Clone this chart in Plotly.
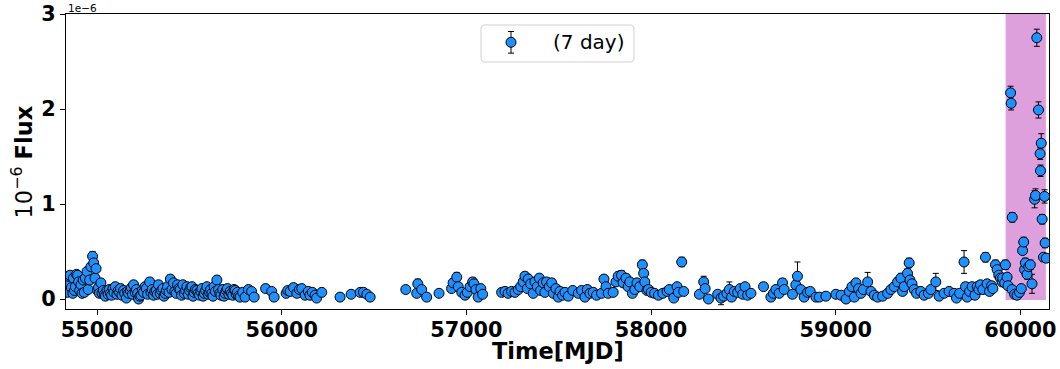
import plotly.graph_objects as go

# ---------------------------------------------------------------------------
# 7-day binned light curve (flux in units of 1e-6)
# ---------------------------------------------------------------------------
mjd_a = [
    54836, 54838, 54845, 54854, 54861, 54869, 54872, 54878, 54883, 54889,
    54895, 54900, 54906, 54913, 54919, 54925, 54931, 54937, 54946, 54952,
    54960, 54967, 54976, 54982, 54989, 54995, 55003, 55008, 55013, 55021,
    55027, 55034, 55040, 55045, 55054, 55060, 55066, 55072, 55079, 55086,
    55092, 55099, 55108, 55115, 55122, 55128, 55135, 55144, 55150, 55159,
    55165, 55171, 55180, 55186, 55192, 55198, 55206, 55213, 55220, 55225,
    55232, 55238, 55245, 55252, 55260, 55267, 55274, 55285, 55292, 55299,
    55306, 55313, 55321, 55327, 55333, 55342, 55349, 55357, 55363, 55370,
    55376, 55382, 55390, 55397, 55406, 55414, 55421, 55429, 55436, 55443,
    55451, 55458, 55465, 55472, 55480, 55487, 55494, 55501, 55507, 55514,
    55520, 55526, 55533, 55541, 55548, 55555, 55562, 55568, 55575, 55581,
    55588, 55595, 55602, 55609, 55615, 55622, 55628, 55634, 55641, 55649,
    55658, 55665, 55671, 55681, 55688, 55694, 55700, 55706, 55714, 55721,
    55728, 55735, 55742, 55748, 55754, 55760, 55767, 55775, 55789, 55802,
    55820, 55837, 55851,
]
flux_a = [
    0.17, 0.07, 0.24, 0.25, 0.12, 0.06, 0.22, 0.09, 0.13, 0.26,
    0.25, 0.18, 0.09, 0.15, 0.06, 0.20, 0.07, 0.22, 0.29, 0.10,
    0.20, 0.34, 0.45, 0.38, 0.22, 0.32, 0.09, 0.12, 0.06, 0.17,
    0.06, 0.09, 0.05, 0.03, 0.09, 0.05, 0.10, 0.06, 0.04, 0.11,
    0.07, 0.13, 0.05, 0.09, 0.07, 0.11, 0.04, 0.09, 0.06, 0.01,
    0.08, 0.06, 0.09, 0.12, 0.05, 0.15, 0.07, 0.10, 0.06, 0.00,
    0.03, 0.04, 0.09, 0.07, 0.13, 0.11, 0.05, 0.18, 0.07, 0.10,
    0.04, 0.08, 0.09, 0.05, 0.15, 0.06, 0.09, 0.11, 0.03, 0.06,
    0.09, 0.13, 0.07, 0.21, 0.10, 0.17, 0.08, 0.06, 0.15, 0.11,
    0.10, 0.04, 0.15, 0.06, 0.09, 0.13, 0.05, 0.09, 0.12, 0.13,
    0.03, 0.07, 0.10, 0.09, 0.06, 0.04, 0.08, 0.11, 0.03, 0.06,
    0.09, 0.13, 0.05, 0.07, 0.10, 0.06, 0.03, 0.13, 0.08, 0.20,
    0.10, 0.06, 0.04, 0.10, 0.03, 0.06, 0.09, 0.11, 0.05, 0.08,
    0.06, 0.04, 0.10, 0.09, 0.05, 0.07, 0.03, 0.02, 0.07, 0.02,
    0.10, 0.08, 0.02,
]
err_a = [
    0.04, 0.03, 0.04, 0.04, 0.03, 0.03, 0.04, 0.03, 0.03, 0.04,
    0.04, 0.03, 0.03, 0.03, 0.03, 0.04, 0.03, 0.04, 0.04, 0.03,
    0.04, 0.04, 0.05, 0.05, 0.04, 0.04, 0.03, 0.03, 0.02, 0.03,
    0.02, 0.03, 0.02, 0.02, 0.03, 0.02, 0.03, 0.02, 0.02, 0.03,
    0.02, 0.03, 0.02, 0.03, 0.02, 0.03, 0.02, 0.03, 0.02, 0.02,
    0.03, 0.02, 0.03, 0.03, 0.02, 0.03, 0.02, 0.03, 0.02, 0.02,
    0.02, 0.02, 0.03, 0.02, 0.03, 0.03, 0.02, 0.04, 0.02, 0.03,
    0.02, 0.03, 0.03, 0.02, 0.03, 0.02, 0.03, 0.03, 0.02, 0.02,
    0.03, 0.03, 0.02, 0.04, 0.03, 0.03, 0.02, 0.02, 0.03, 0.03,
    0.03, 0.02, 0.03, 0.02, 0.03, 0.03, 0.02, 0.03, 0.03, 0.03,
    0.02, 0.02, 0.03, 0.03, 0.02, 0.02, 0.03, 0.03, 0.02, 0.02,
    0.03, 0.03, 0.02, 0.02, 0.03, 0.02, 0.02, 0.03, 0.02, 0.04,
    0.03, 0.02, 0.02, 0.03, 0.02, 0.02, 0.03, 0.03, 0.02, 0.03,
    0.02, 0.02, 0.03, 0.03, 0.02, 0.02, 0.02, 0.02, 0.03, 0.02,
    0.03, 0.03, 0.02,
]

mjd_b = [
    55913, 55946, 55959, 56024, 56033, 56046, 56064, 56082, 56096, 56109,
    56127, 56144, 56153, 56166, 56181, 56189, 56217, 56316, 56376, 56425,
    56443, 56461, 56479, 56672, 56731, 56737, 56758, 56785, 56852, 56920,
    56928, 56948, 56956, 56975, 56993, 57005, 57020, 57034, 57041, 57052,
    57064, 57078, 57088,
]
flux_b = [
    0.11, 0.08, 0.02, 0.06, 0.09, 0.08, 0.12, 0.06, 0.10, 0.11,
    0.04, 0.08, 0.04, 0.07, 0.04, 0.01, 0.07, 0.02, 0.05, 0.07,
    0.07, 0.05, 0.02, 0.10, 0.06, 0.16, 0.10, 0.02, 0.06, 0.11,
    0.17, 0.23, 0.13, 0.07, 0.04, 0.07, 0.13, 0.18, 0.16, 0.10,
    0.02, 0.11, 0.05,
]
err_b = [
    0.03, 0.03, 0.02, 0.02, 0.03, 0.03, 0.03, 0.02, 0.03, 0.03,
    0.02, 0.03, 0.02, 0.03, 0.02, 0.02, 0.03, 0.02, 0.03, 0.03,
    0.03, 0.02, 0.02, 0.03, 0.03, 0.05, 0.03, 0.02, 0.03, 0.03,
    0.04, 0.05, 0.03, 0.03, 0.02, 0.03, 0.03, 0.04, 0.04, 0.03,
    0.02, 0.03, 0.02,
]

mjd_c = [
    57191, 57209, 57226, 57245, 57263, 57281, 57294, 57308, 57317, 57330,
    57335, 57348, 57362, 57371, 57384, 57395, 57402, 57416, 57425, 57434,
    57449, 57462, 57471, 57485, 57498, 57507, 57521, 57534, 57552, 57576,
    57606, 57624, 57642, 57655, 57669, 57687, 57705, 57732, 57745, 57756,
    57768, 57795, 57810, 57822, 57840, 57849, 57864, 57876, 57885, 57899,
    57912, 57924, 57939, 57953, 57960, 57966, 57978, 57986, 58001, 58019,
    58040, 58064, 58087, 58099, 58123, 58141, 58148, 58166, 58177,
]
flux_c = [
    0.07, 0.08, 0.06, 0.08, 0.07, 0.10, 0.13, 0.18, 0.24, 0.11,
    0.21, 0.16, 0.06, 0.18, 0.13, 0.22, 0.09, 0.17, 0.07, 0.18,
    0.13, 0.17, 0.06, 0.11, 0.02, 0.08, 0.04, 0.07, 0.03, 0.09,
    0.06, 0.09, 0.02, 0.10, 0.06, 0.07, 0.04, 0.06, 0.21, 0.13,
    0.06, 0.07, 0.18, 0.24, 0.25, 0.17, 0.22, 0.13, 0.18, 0.06,
    0.10, 0.17, 0.13, 0.36, 0.27, 0.18, 0.09, 0.10, 0.07, 0.06,
    0.04, 0.06, 0.08, 0.10, 0.01, 0.13, 0.07, 0.39, 0.08,
]
err_c = [
    0.03, 0.03, 0.02, 0.03, 0.03, 0.03, 0.03, 0.04, 0.04, 0.03,
    0.05, 0.03, 0.02, 0.04, 0.03, 0.04, 0.03, 0.04, 0.02, 0.04,
    0.03, 0.04, 0.02, 0.03, 0.02, 0.03, 0.02, 0.03, 0.02, 0.03,
    0.02, 0.03, 0.02, 0.03, 0.02, 0.03, 0.02, 0.03, 0.04, 0.03,
    0.02, 0.03, 0.04, 0.04, 0.05, 0.04, 0.04, 0.03, 0.04, 0.02,
    0.03, 0.04, 0.03, 0.05, 0.04, 0.04, 0.03, 0.03, 0.02, 0.02,
    0.02, 0.02, 0.03, 0.03, 0.02, 0.03, 0.02, 0.05, 0.02,
]

mjd_d = [
    58262, 58285, 58293, 58311, 58361, 58379, 58393, 58411, 58424, 58436,
    58451, 58469, 58483, 58496, 58509, 58523, 58541, 58609, 58649, 58663,
    58676, 58694, 58712, 58721, 58766, 58784, 58793, 58811, 58829, 58848,
    58862, 58893, 58911, 58947, 59001, 59029, 59056, 59074, 59088, 59101,
    59110, 59124, 59137, 59150, 59173, 59191, 59209, 59227, 59254, 59281,
    59299, 59317, 59335, 59353, 59362, 59371, 59389, 59398, 59402, 59413,
    59425, 59438, 59461, 59479, 59502, 59515, 59542, 59560, 59587, 59614,
    59641, 59654, 59671, 59695, 59703, 59712, 59725, 59739, 59754, 59766,
    59775, 59784, 59797, 59811, 59820, 59833, 59844, 59851, 59865, 59874,
    59883, 59892, 59901,
]
flux_d = [
    0.05, 0.18, 0.11, 0.00, 0.05, 0.01, 0.03, 0.06, 0.10, 0.02,
    0.08, 0.07, 0.11, 0.05, 0.13, 0.04, 0.06, 0.13, 0.02, 0.06,
    0.10, 0.06, 0.17, 0.10, 0.05, 0.15, 0.24, 0.10, 0.02, 0.07,
    0.08, 0.02, 0.02, 0.03, 0.05, 0.04, 0.00, 0.08, 0.13, 0.02,
    0.17, 0.11, 0.06, 0.10, 0.18, 0.08, 0.04, 0.02, 0.03, 0.06,
    0.10, 0.13, 0.18, 0.22, 0.08, 0.13, 0.27, 0.38, 0.20, 0.16,
    0.10, 0.06, 0.08, 0.04, 0.06, 0.10, 0.18, 0.03, 0.06, 0.08,
    0.06, 0.01, 0.06, 0.39, 0.13, 0.02, 0.08, 0.13, 0.04, 0.13,
    0.10, 0.15, 0.10, 0.44, 0.16, 0.08, 0.14, 0.11, 0.36, 0.31,
    0.25, 0.22, 0.18,
]
err_d = [
    0.03, 0.06, 0.03, 0.03, 0.03, 0.07, 0.03, 0.03, 0.08, 0.03,
    0.03, 0.03, 0.03, 0.03, 0.04, 0.03, 0.03, 0.04, 0.03, 0.03,
    0.03, 0.03, 0.04, 0.03, 0.03, 0.04, 0.15, 0.03, 0.03, 0.03,
    0.03, 0.02, 0.02, 0.02, 0.03, 0.03, 0.03, 0.03, 0.04, 0.02,
    0.04, 0.03, 0.02, 0.03, 0.10, 0.03, 0.02, 0.02, 0.02, 0.03,
    0.03, 0.04, 0.04, 0.05, 0.03, 0.04, 0.05, 0.05, 0.04, 0.04,
    0.03, 0.03, 0.03, 0.02, 0.03, 0.03, 0.09, 0.02, 0.03, 0.03,
    0.03, 0.02, 0.03, 0.12, 0.04, 0.03, 0.03, 0.04, 0.03, 0.04,
    0.03, 0.04, 0.03, 0.05, 0.04, 0.03, 0.04, 0.03, 0.05, 0.05,
    0.04, 0.04, 0.04,
]

mjd_e = [
    59904, 59915, 59919, 59928, 59933, 59947, 59950, 59955, 59956, 59969,
    59982, 59995, 60005, 60012, 60018, 60023, 60027, 60036, 60045, 60054,
    60063, 60077, 60082, 60089, 60098, 60107, 60109, 60113, 60118, 60125,
    60131, 60134, 60140,
]
flux_e = [
    0.22, 0.17, 0.36, 0.23, 0.14, 2.17, 2.06, 0.10, 0.86, 0.05,
    0.04, 0.07, 0.11, 0.51, 0.60, 0.31, 0.38, 0.26, 0.34, 0.36,
    0.16, 1.05, 1.09, 2.75, 1.99, 1.53, 1.35, 1.64, 0.84, 0.44,
    1.08, 0.59, 0.43,
]
err_e = [
    0.04, 0.03, 0.05, 0.04, 0.03, 0.07, 0.07, 0.03, 0.05, 0.03,
    0.03, 0.03, 0.03, 0.04, 0.05, 0.05, 0.05, 0.05, 0.05, 0.05,
    0.10, 0.09, 0.07, 0.09, 0.085, 0.06, 0.06, 0.10, 0.05, 0.04,
    0.07, 0.05, 0.04,
]

# highlighted flaring window (MJD)
flare_window = [59920, 60138]

x_ticks = [55000, 56000, 57000, 58000, 59000, 60000]
y_ticks = [0, 1, 2, 3]
x_range = [54832, 60155]
y_range = [-0.105, 3.0]

mjd = mjd_a + mjd_b + mjd_c + mjd_d + mjd_e
flux = flux_a + flux_b + flux_c + flux_d + flux_e
err = err_a + err_b + err_c + err_d + err_e

FONT = "DejaVu Sans"
BLUE = "#1E90FF"
MARKER = dict(size=10, color=BLUE, line=dict(color="black", width=1))

fig = go.Figure()

fig.add_trace(go.Scatter(
    x=mjd, y=flux, mode="markers", name="(7 day)", showlegend=False,
    marker=MARKER,
    error_y=dict(type="data", array=err, visible=True, color="black",
                 thickness=1, width=3),
    cliponaxis=True,
))

# legend key (marker with error bar) on a hidden unit overlay axis
fig.add_trace(go.Scatter(
    x=[0.4527], y=[0.904], mode="markers", xaxis="x2", yaxis="y2",
    showlegend=False, hoverinfo="skip",
    marker=MARKER,
    error_y=dict(type="data", array=[0.0366], visible=True, color="black",
                 thickness=1, width=3),
))

shapes = [
    dict(type="rect", xref="x", yref="y",
         x0=flare_window[0], x1=flare_window[1], y0=-0.01, y1=3.0,
         fillcolor="#DDA0DD", line=dict(width=0), layer="below"),
]

# rounded legend frame
lx0, lx1, ly0, ly1 = 0.4222, 0.5778, 0.8373, 0.9627
rx, ry = 0.0041, 0.0136
legend_path = (
    f"M {lx0+rx},{ly0} L {lx1-rx},{ly0} Q {lx1},{ly0} {lx1},{ly0+ry} "
    f"L {lx1},{ly1-ry} Q {lx1},{ly1} {lx1-rx},{ly1} "
    f"L {lx0+rx},{ly1} Q {lx0},{ly1} {lx0},{ly1-ry} "
    f"L {lx0},{ly0+ry} Q {lx0},{ly0} {lx0+rx},{ly0} Z"
)
shapes.append(dict(type="path", xref="paper", yref="paper", path=legend_path,
                   fillcolor="rgba(255,255,255,0.8)",
                   line=dict(color="#d0d0d0", width=1), layer="below"))

annotations = [
    dict(text="(7 day)", xref="paper", yref="paper", x=0.493, y=0.904,
         xanchor="left", yanchor="middle", showarrow=False,
         font=dict(family=FONT, size=20, color="black")),
    dict(text="1e\u22126", xref="paper", yref="paper", x=0.0, y=1.0203,
         xanchor="left", yanchor="middle", showarrow=False,
         font=dict(family=FONT, size=10.5, color="black")),
    dict(text="10<sup>\u22126</sup> <b>Flux</b>", xref="paper", yref="paper",
         x=-0.0448, y=0.5, xanchor="center", yanchor="middle",
         textangle=-90, showarrow=False,
         font=dict(family=FONT, size=22.5, color="black")),
    dict(text="<b>Time[MJD]</b>", xref="paper", yref="paper",
         x=0.5, y=-0.1424, xanchor="center", yanchor="middle",
         showarrow=False, font=dict(family=FONT, size=22.5, color="black")),
]

axis_common = dict(
    showline=True, linecolor="black", linewidth=1, mirror=True,
    ticks="outside", ticklen=5, tickwidth=1, tickcolor="black",
    showgrid=False, zeroline=False, automargin=False,
    tickfont=dict(family=FONT, size=20.8, color="black", weight="bold"),
)

fig.update_layout(
    width=1060, height=369,
    margin=dict(l=66, r=11, t=14, b=60, autoexpand=False),
    paper_bgcolor="white", plot_bgcolor="white",
    showlegend=False,
    xaxis=dict(range=x_range, tickvals=x_ticks, ticklabelstandoff=-3,
               ticktext=[str(v) for v in x_ticks], **axis_common),
    yaxis=dict(range=y_range, tickvals=y_ticks,
               ticktext=[str(v) for v in y_ticks], **axis_common),
    xaxis2=dict(overlaying="x", range=[0, 1], visible=False, anchor="y2",
                automargin=False),
    yaxis2=dict(overlaying="y", range=[0, 1], visible=False, anchor="x2",
                automargin=False),
    shapes=shapes,
    annotations=annotations,
)

fig.write_html("out.html")
